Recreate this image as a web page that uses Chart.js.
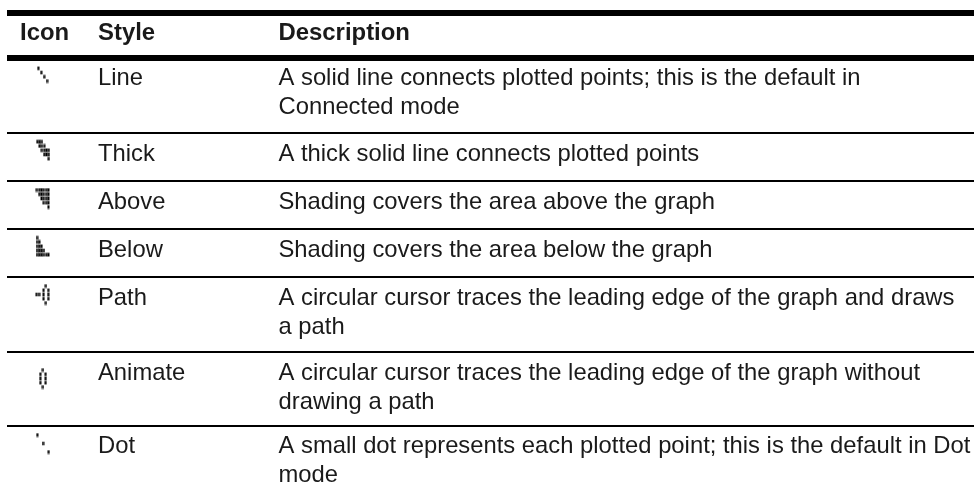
<!DOCTYPE html>
<html>
<head>
<meta charset="utf-8">
<style>
  html, body { margin: 0; padding: 0; background: #fff; }
  #chart { display: block; }
</style>
<script src="https://cdn.jsdelivr.net/npm/chart.js@4/dist/chart.umd.js"></script>
</head>
<body>
<canvas id="chart" width="974" height="495"></canvas>
<script>
// table content
const headers = ["Icon", "Style", "Description"];
const styleNames = ["Line", "Thick", "Above", "Below", "Path", "Animate", "Dot"];
const descriptions = [
  ["A solid line connects plotted points; this is the default in", "Connected mode"],
  ["A thick solid line connects plotted points"],
  ["Shading covers the area above the graph"],
  ["Shading covers the area below the graph"],
  ["A circular cursor traces the leading edge of the graph and draws", "a path"],
  ["A circular cursor traces the leading edge of the graph without", "drawing a path"],
  ["A small dot represents each plotted point; this is the default in Dot", "mode"],
];
// one string per row of the calculator icon, x = dark cell
const iconBitmaps = [
  ["x...", ".x..", "..x.", "...x"],
  ["xxx...", ".xxx..", "..xxxx", "...xxx", ".....x"],
  ["xxxxxx", ".xxxxx", "..xxxx", "...xxx", ".....x"],
  ["x.....", "xx....", "xxx...", "xxxx..", "xxxxxx"],
  ["....x.", "...x.x", "xx.x.x", "...x.x", "....x."],
  [".x.", "x.x", "x.x", "x.x", ".x."],
  ["x....", ".....", "..x..", ".....", "....x"],
];

// layout, in page units
const columnX = [20, 98, 278.5];
const headerBaseline = 40;
const rowBaselines = [85, 161, 209, 257, 305, 380, 453];
const lineStep = 28.5;
const thickRules = [13, 58];
const thinRules = [133, 181, 229, 277, 352, 426];
const ruleStart = 7;
const iconLeft = [38.3, 37.3, 36.9, 37, 36.7, 40.3, 37.3];
const iconTop = [68.3, 141.7, 190, 237.7, 286, 370, 435];
const iconPitch = [2.9, 2.3, 2.3, 2.3, 2.3, 2.67, 2.85];
const iconRowPitch = 4.25;

const inkColor = "#1a1a1a";
const fontFamily = '"Liberation Sans", Arial, sans-serif';
const bodySize = 23.8;
const headerSize = 23.9;

var cell = document.createElement("canvas");
cell.width = 3;
cell.height = 5;
var cellCtx = cell.getContext("2d");
cellCtx.fillStyle = "#000";
cellCtx.fillRect(0.5, 0.7, 2, 3.6);

function rule(y, width) {
  return {
    type: "line",
    data: [{ x: ruleStart, y: y }, { x: 974, y: y }],
    borderColor: "#000",
    borderWidth: width,
    pointRadius: 0,
    order: 2,
  };
}

function iconPoints(bitmap, i) {
  var points = [];
  bitmap.forEach((row, r) => {
    row.split("").forEach((c, col) => {
      if (c === "x") {
        points.push({ x: iconLeft[i] + col * iconPitch[i], y: iconTop[i] + r * iconRowPitch });
      }
    });
  });
  return points;
}

const tableText = {
  id: "tableText",
  afterDatasetsDraw(chart) {
    var ctx = chart.ctx;
    var x = chart.scales.x;
    var y = chart.scales.y;
    ctx.save();
    ctx.fillStyle = inkColor;
    ctx.textBaseline = "alphabetic";
    ctx.font = "bold " + headerSize + "px " + fontFamily;
    headers.forEach((h, i) => {
      ctx.fillText(h, x.getPixelForValue(columnX[i]), y.getPixelForValue(headerBaseline));
    });
    ctx.font = bodySize + "px " + fontFamily;
    styleNames.forEach((name, i) => {
      ctx.fillText(name, x.getPixelForValue(columnX[1]), y.getPixelForValue(rowBaselines[i]));
      descriptions[i].forEach((line, l) => {
        ctx.fillText(line, x.getPixelForValue(columnX[2]), y.getPixelForValue(rowBaselines[i] + l * lineStep));
      });
    });
    ctx.restore();
  },
};

new Chart("chart", {
  type: "scatter",
  data: {
    datasets: [
      ...thickRules.map((y) => rule(y, 6)),
      ...thinRules.map((y) => rule(y, 2)),
      ...iconBitmaps.map((bitmap, i) => ({
        data: iconPoints(bitmap, i),
        pointStyle: cell,
        pointRadius: 2,
        showLine: false,
      })),
    ],
  },
  options: {
    responsive: false,
    animation: false,
    events: [],
    layout: { autoPadding: false },
    plugins: { legend: { display: false }, tooltip: { enabled: false } },
    scales: {
      x: { type: "linear", min: 0, max: 974, display: false },
      y: { type: "linear", min: 0, max: 495, reverse: true, display: false },
    },
  },
  plugins: [tableText],
});
</script>
</body>
</html>
